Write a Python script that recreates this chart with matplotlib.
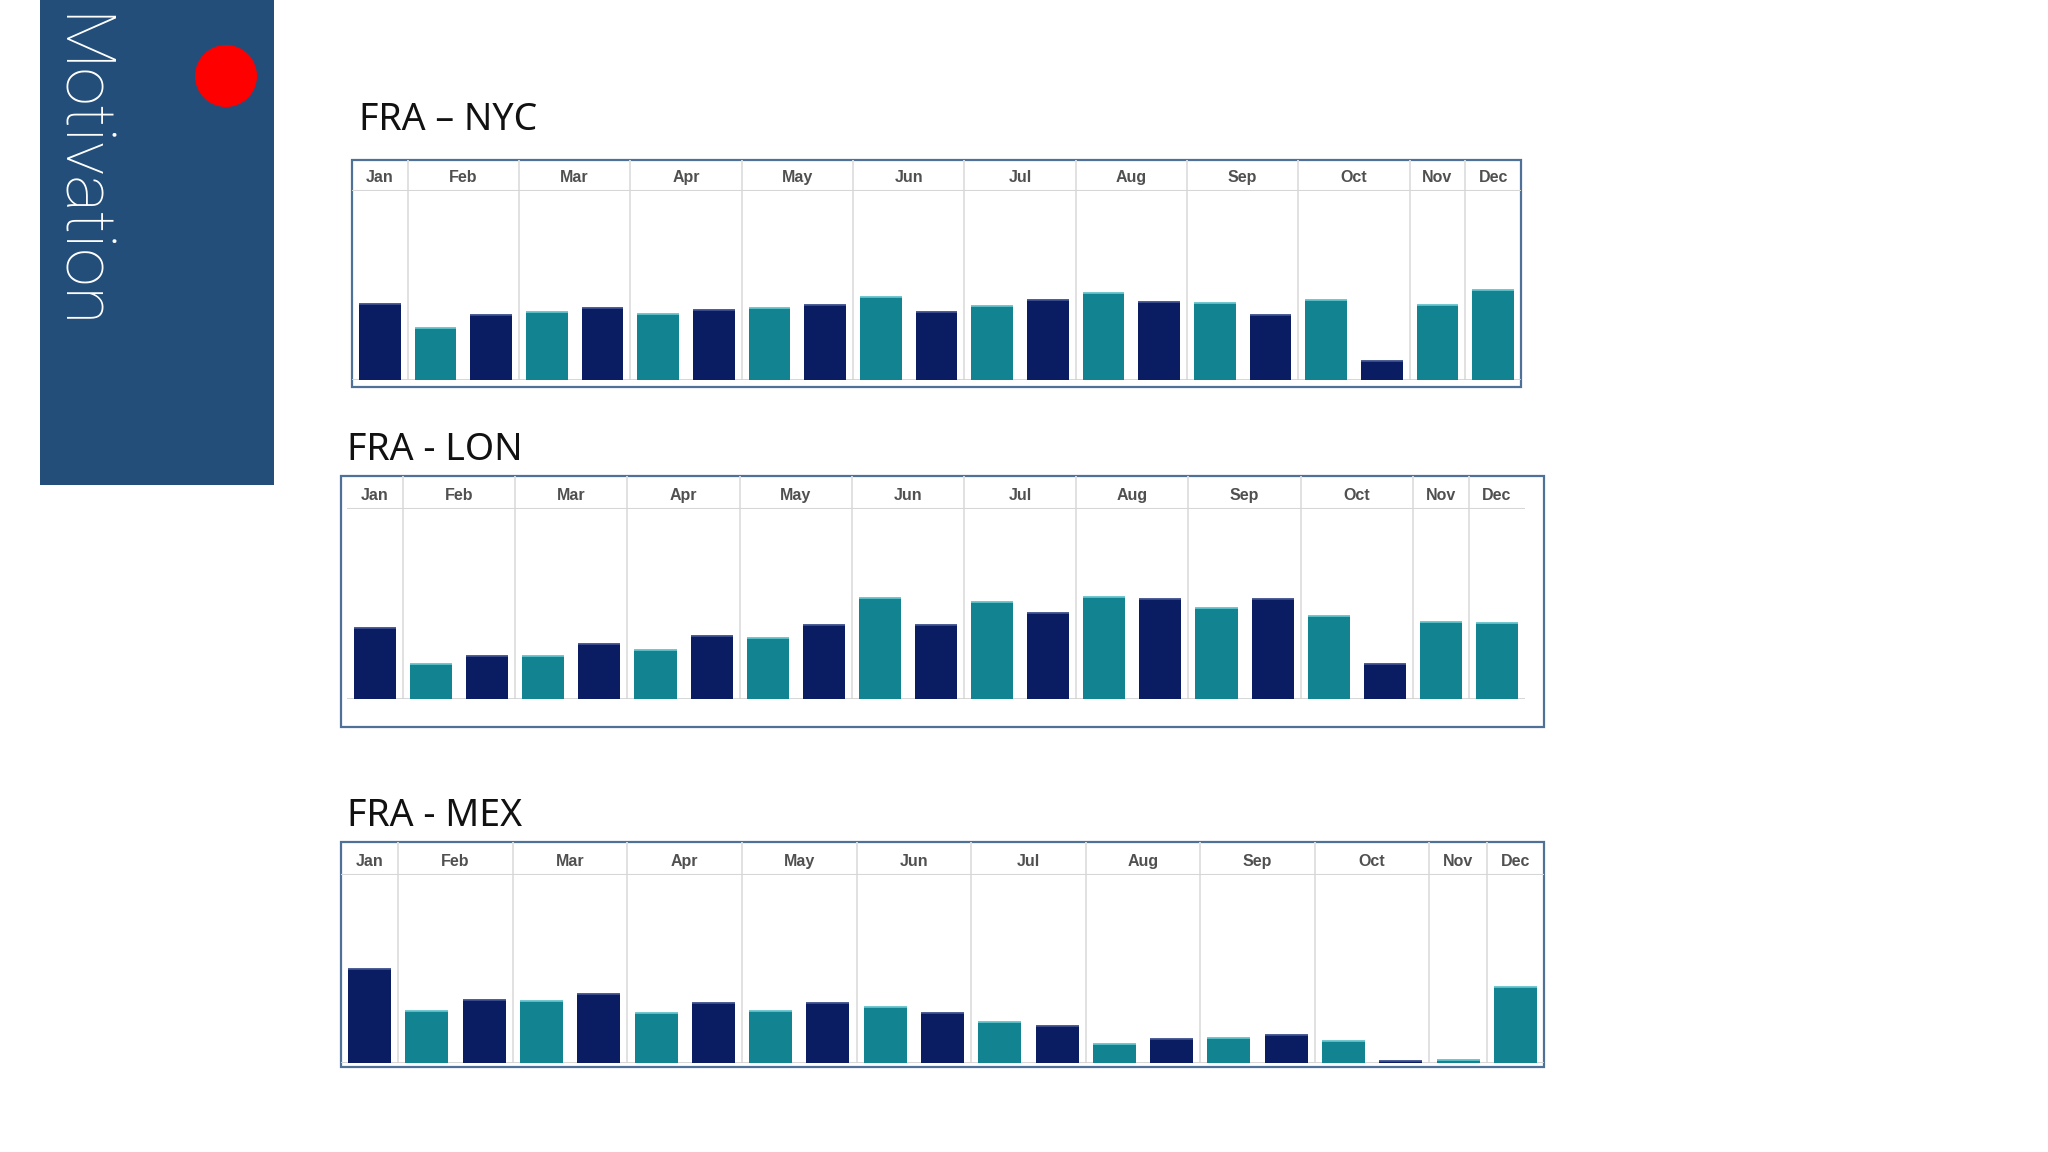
import matplotlib
matplotlib.use("Agg")
import matplotlib.pyplot as plt
from matplotlib.patches import Rectangle, Circle
import numpy as np

W, H = 2048, 1152

# ---------------- data ----------------
months = ["Jan", "Feb", "Mar", "Apr", "May", "Jun", "Jul", "Aug", "Sep", "Oct", "Nov", "Dec"]
month_slots = [1, 2, 2, 2, 2, 2, 2, 2, 2, 2, 1, 1]
bar_kind = ["d", "t", "d", "t", "d", "t", "d", "t", "d", "t", "d",
            "t", "d", "t", "d", "t", "d", "t", "d", "t", "t"]

titles = ["FRA \u2013 NYC", "FRA - LON", "FRA - MEX"]
nyc_values = [228, 155, 195, 203, 217, 198, 211, 215, 225, 249, 204,
              221, 239, 260, 235, 230, 196, 239, 58, 225, 270]
lon_values = [214, 104, 130, 130, 166, 148, 188, 182, 222, 301, 222,
              290, 258, 306, 298, 272, 298, 250, 105, 232, 227]
mex_values = [282, 156, 190, 186, 207, 150, 181, 155, 180, 168, 150,
              124, 111, 58, 72, 76, 85, 67, 6, 10, 229]
scale_max = [568, 569, 563]

# ---------------- styles ----------------
DARK = "#0b1d62"
TEAL = "#128390"
DARK_TOP = "#3d4f8f"
TEAL_TOP = "#63c3cb"
SIDEBAR = "#234e7a"
BOX = "#4f7198"
GRID = "#dedede"

# layout in pixels
boxes = [(352, 160, 1521, 387), (341, 476, 1544, 727), (341, 842, 1544, 1067)]
plots = [(352, 191, 380, 1521), (347, 509, 699, 1525), (341, 875, 1063, 1544)]
tops = [160, 476, 842]
title_pos = [(359, 130), (347, 460), (347, 826)]

fig = plt.figure(figsize=(W / 100, H / 100), dpi=100)
fig.patch.set_facecolor("white")

bg = fig.add_axes([0, 0, 1, 1])
bg.set_xlim(0, W)
bg.set_ylim(H, 0)
bg.axis("off")

bg.add_patch(Rectangle((40, 0), 234, 485, facecolor=SIDEBAR, edgecolor="none"))
bg.add_patch(Circle((226, 76), 31, facecolor="#ff0000", edgecolor="none"))
bg.text(77, 14, "Motivation", rotation=-90, ha="center", va="top",
        color="white", fontsize=50, family=["Roboto", "DejaVu Sans"], fontweight="light")

for (bx0, by0, bx1, by1) in boxes:
    bg.add_patch(Rectangle((bx0, by0), bx1 - bx0, by1 - by0, facecolor="none",
                           edgecolor=BOX, linewidth=1.6))

for t, (tx, ty) in zip(titles, title_pos):
    bg.text(tx, ty, t, ha="left", va="baseline", fontsize=27,
            family=["Noto Sans", "DejaVu Sans"], color="#111111")


def fig_rect(x0, y0, x1, y1):
    return [x0 / W, 1 - y1 / H, (x1 - x0) / W, (y1 - y0) / H]


series = [nyc_values, lon_values, mex_values]
n = len(bar_kind)
x = np.arange(n)
bounds = np.cumsum([0] + month_slots) - 0.5

for i, vals in enumerate(series):
    px0, hy, by, px1 = plots[i]
    ax = fig.add_axes(fig_rect(px0, hy, px1, by))
    ax.set_xlim(-0.5, n - 0.5)
    ax.set_ylim(0, scale_max[i])
    ax.axis("off")
    for b in bounds[1:-1]:
        ax.axvline(b, color=GRID, lw=1.3, zorder=0)
    colors = [DARK if k == "d" else TEAL for k in bar_kind]
    tcolors = [DARK_TOP if k == "d" else TEAL_TOP for k in bar_kind]
    ax.bar(x, vals, width=0.75, color=colors, zorder=2)
    ax.hlines(vals, x - 0.375, x + 0.375, colors=tcolors, lw=1.3, zorder=3)
    ax.axhline(0, color="#d0d0d0", lw=1.2, zorder=1)

    hx = fig.add_axes(fig_rect(px0, tops[i], px1, hy))
    hx.set_xlim(-0.5, n - 0.5)
    hx.set_ylim(0, 1)
    hx.axis("off")
    for b in bounds[1:-1]:
        hx.axvline(b, color=GRID, lw=1.3)
    hx.axhline(0, color="#d6d6d6", lw=2.2)
    for m, s0, s in zip(months, bounds[:-1], month_slots):
        hx.text(s0 + s / 2, 0.42, m, ha="center", va="center", fontsize=11.5,
                family=["Liberation Sans", "DejaVu Sans"], fontweight="bold",
                color="#505050")

fig.savefig("out.png", dpi=100, facecolor="white")
